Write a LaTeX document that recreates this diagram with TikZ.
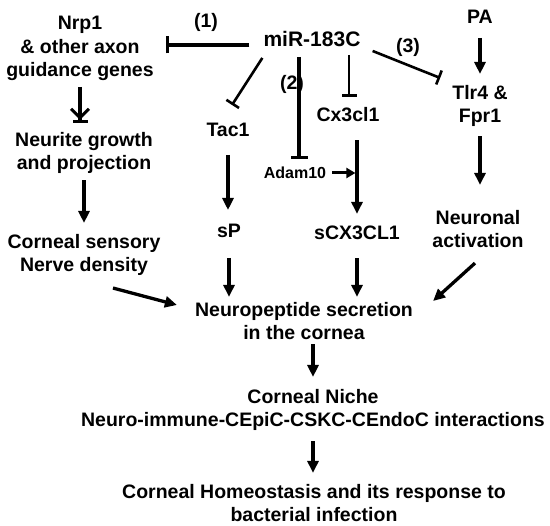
\documentclass[tikz,border=0pt]{standalone}
\usepackage{fontspec}
\setmainfont{Liberation Sans}
\usetikzlibrary{arrows.meta,calc}
\begin{document}
\begin{tikzpicture}[x=1pt,y=-1pt,
  lbl/.style={font=\bfseries\fontsize{19.5}{23.5}\selectfont, inner sep=0pt, align=center},
  arr/.style={line width=3.3pt, -{Triangle[length=12pt,width=11pt]}},
  arrs/.style={line width=3pt, -{Triangle[length=9pt,width=10pt]}},
  barr/.style={line width=3.3pt, -{Straight Barb[length=9pt,width=18pt,line width=3pt,sep=0pt] Bar[width=15pt,line width=3pt]}},
  inh/.style={line width=3.3pt, -{Bar[width=17pt]}},
  inht/.style={line width=2.6pt, -{Bar[width=15pt]}}
]
\useasboundingbox (0,0) rectangle (550,526);
% nodes
\node[lbl] (nrp) at (80,48.5) {Nrp1\\\& other axon\\guidance genes};
\node[lbl,font=\bfseries\fontsize{21}{24}\selectfont] (mir) at (312,39) {miR-183C};
\node[lbl] (pa) at (480,17) {PA};
\node[lbl] (tac) at (228,130) {Tac1};
\node[lbl] (cx) at (348,115) {Cx3cl1};
\node[lbl] (tlr) at (480,106) {Tlr4 \&\\Fpr1};
\node[lbl,font=\bfseries\fontsize{16}{18}\selectfont] (adam) at (295,173) {Adam10};
\node[lbl] (neurite) at (84,153) {Neurite growth\\and projection};
\node[lbl] (sens) at (84,255) {Corneal sensory\\Nerve density};
\node[lbl] (sp) at (229,231) {sP};
\node[lbl] (scx) at (357,233) {sCX3CL1};
\node[lbl] (neur) at (478,229) {Neuronal\\activation};
\node[lbl] (np) at (304,321) {Neuropeptide secretion\\in the cornea};
\node[lbl] (niche) at (313,410) {Corneal Niche\\Neuro-immune-CEpiC-CSKC-CEndoC interactions};
\node[lbl] (home) at (314,503) {Corneal Homeostasis and its response to\\bacterial infection};
\node[lbl] (l1) at (206,22) {(1)};
\node[lbl] (l2) at (292,84) {(2)};
\node[lbl] (l3) at (408,47) {(3)};
% helper coordinates
\coordinate (m1) at ($(mir.west)+(-14,6)$);
\coordinate (nrpbar) at ($(nrp.east)+(12,0)$);
\coordinate (m2) at ($(mir.south)+(-13,10)$);
\coordinate (m3) at ($(mir.south)+(37,8)$);
% inhibitions from miR-183C
\draw[inh] (m1) -- (m1 -| nrpbar);
\draw[inht] ($(mir.south west)+(-1,11)$) -- ($(tac.north)+(4,-18)$);
\draw[inh, shorten >=8pt] (m2) -- (m2 |- adam.north);
\draw[inht, shorten >=11pt] (m3) -- (m3 |- cx.north);
\draw[inht] ($(mir.east)+(12,12)$) -- ($(tlr.north west)+(-12,-7)$);
% left column
\draw[barr, shorten <=6pt, shorten >=9pt] (nrp.south) -- (nrp.south |- neurite.north);
\draw[arr, shorten <=6pt, shorten >=11pt] (neurite.south) -- (neurite.south |- sens.north);
\draw[arr] ($(sens.south)+(29,12)$) -- ($(np.west)+(-18,-16)$);
% middle columns
\draw[arr, shorten <=18pt, shorten >=14pt] (tac.south) -- (tac.south |- sp.north);
\draw[arr, shorten <=20pt, shorten >=5pt] (sp.south) -- (sp.south |- np.north);
\draw[arr, shorten <=18pt, shorten >=12pt] (scx.north |- cx.south) -- (scx.north);
\draw[arrs, shorten <=6pt, shorten >=1.6pt] (adam.east) -- (adam.east -| scx.north);
\draw[arr, shorten <=18pt, shorten >=5pt] (scx.south) -- (scx.south |- np.north);
% right column
\draw[arr, shorten <=14pt, shorten >=11pt] (pa.south) -- (tlr.north);
\draw[arr, shorten <=9pt, shorten >=25pt] (tlr.south) -- (tlr.south |- neur.north);
\draw[arr] ($(neur.south)+(-3,15)$) -- ($(np.east)+(20,-20)$);
% bottom
\draw[arr, shorten <=4pt, shorten >=12pt] (np.south -| niche.north) -- (niche.north);
\draw[arr, shorten <=10pt, shorten >=11pt] (niche.south) -- (niche.south |- home.north);
\end{tikzpicture}
\end{document}
